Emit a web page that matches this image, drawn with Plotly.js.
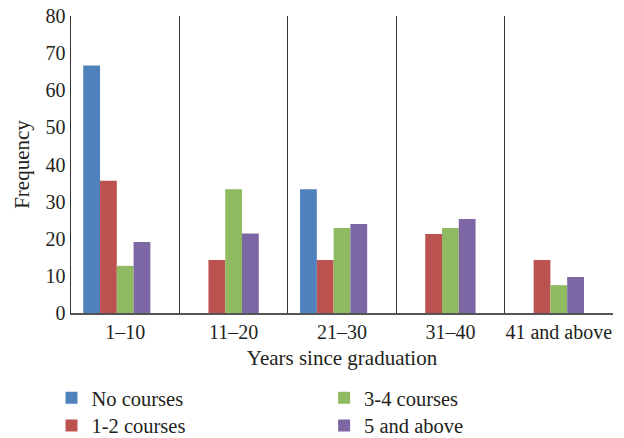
<!DOCTYPE html>
<html>
<head>
<meta charset="utf-8">
<script src="https://cdn.plot.ly/plotly-3.0.1.min.js"></script>
<style>html,body{margin:0;padding:0;background:#fff;}#chart{width:624px;height:438px;}</style>
</head>
<body>
<div id="chart"></div>
<script>
const categories = ['1–10', '11–20', '21–30', '31–40', '41 and above'];
const seriesNames = ['No courses', '1-2 courses', '3-4 courses', '5 and above'];
const noCourses = [66.7, 0, 33.3, 0, 0];
const oneTwoCourses = [35.6, 14.3, 14.3, 21.3, 14.3];
const threeFourCourses = [12.7, 33.3, 22.9, 22.9, 7.5];
const fiveAndAbove = [19.1, 21.4, 24.0, 25.3, 9.7];
// the source chart reserves an empty fifth slot in each group
const emptySlot = [null, null, null, null, null];
const yTicks = [0, 10, 20, 30, 40, 50, 60, 70, 80];

const colors = ['#4F81BD', '#BC5250', '#90BA62', '#7C66A4'];
const values = [noCourses, oneTwoCourses, threeFourCourses, fiveAndAbove];
const legendIds = ['legend', 'legend3', 'legend2', 'legend4'];

const fam = 'Liberation Serif';
function mkFont(size) { return {family: fam, size: size, color: '#231F20'}; }

const traces = values.map((v, i) => ({
  type: 'bar',
  name: seriesNames[i],
  x: categories,
  y: v,
  marker: {color: colors[i], line: {width: 0}},
  legend: legendIds[i],
  hoverinfo: 'x+y+name'
}));
traces.push({type: 'bar', name: '', x: categories, y: emptySlot, showlegend: false, hoverinfo: 'skip'});

function leg(x, y) {
  return {x: x, y: y, xanchor: 'left', yanchor: 'middle', orientation: 'v',
          font: mkFont(20.5), bgcolor: 'rgba(0,0,0,0)', borderwidth: 0, itemwidth: 30};
}

const layout = {
  width: 624, height: 438,
  margin: {l: 71, r: 11, t: 16, b: 125, autoexpand: false},
  paper_bgcolor: '#ffffff', plot_bgcolor: '#ffffff',
  font: mkFont(21),
  barmode: 'group',
  bargap: 0.226,
  bargroupgap: 0,
  xaxis: {
    type: 'category',
    tickson: 'boundaries',
    showgrid: true, gridcolor: '#333333', gridwidth: 1.3,
    showline: true, linecolor: '#555555', linewidth: 1.5,
    ticks: '', ticklen: 0, tickangle: 0,
    tickfont: mkFont(20),
    title: {text: 'Years since graduation', font: mkFont(21), standoff: 9},
    range: [-0.5, 4.5]
  },
  yaxis: {
    range: [0, 80],
    tickvals: yTicks,
    showgrid: false, zeroline: false,
    showline: true, linecolor: '#333333', linewidth: 1.5,
    ticks: '', tickfont: mkFont(20),
    title: {text: 'Frequency', font: mkFont(21), standoff: 10}
  },
  legend: leg(-0.036, -0.286),
  legend3: leg(-0.036, -0.379),
  legend2: leg(0.467, -0.286),
  legend4: leg(0.467, -0.379),
  showlegend: true
};

Plotly.newPlot('chart', traces, layout, {displayModeBar: false, staticPlot: true});
</script>
</body>
</html>
